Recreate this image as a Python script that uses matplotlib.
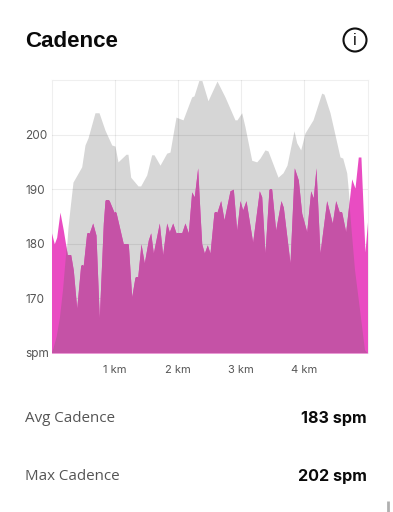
import matplotlib
matplotlib.use("Agg")
import matplotlib.pyplot as plt
from matplotlib.patches import Circle, Polygon

cad_km = [0,.044,.082,.134,.187,.25,.304,.345,.399,.462,.503,.557,.598,.652,.704,.756,.82,.847,.91,.989,1.02,1.136,1.215,1.269,1.321,1.364,1.416,1.468,1.532,1.57,1.611,1.706,1.759,1.823,1.864,1.918,1.97,2.06,2.112,2.165,2.218,2.259,2.313,2.35,2.377,2.418,2.465,2.508,2.571,2.619,2.677,2.73,2.824,2.877,2.93,2.983,3.025,3.078,3.183,3.288,3.326,3.378,3.441,3.484,3.547,3.631,3.668,3.774,3.842,3.905,3.959,4.038,4.101,4.142,4.185,4.248,4.354,4.443,4.497,4.554,4.592,4.655,4.75,4.802,4.854,4.896,4.96,5.0]
cad_spm = [182,180,181.2,185.8,182.5,178,178,175.2,168.2,176.1,176.1,182,182,183.8,181.6,166.4,183.8,188,188,185.8,185.8,180,180,170.3,173.9,173.9,180,176.5,180.7,182,178.3,183.8,178,183.8,182.2,183.8,182,182,183.8,182,189.5,188.6,193.9,185.6,180,178.3,179.8,178.3,185.8,185.8,187.9,184.4,189.7,190,182.5,187.9,186.2,187.9,180.3,189.7,188.6,178.3,190,190,182.5,187.9,186.7,176.5,193.9,191.7,185.6,182.2,189.7,188.4,193.9,178.3,187.9,183.8,187.9,185.8,185.8,182.2,191.9,190.2,195.9,195.9,178.5,184]

ele_km = [0,.03,.082,.134,.182,.23,.261,.293,.34,.478,.53,.578,.688,.752,.847,.953,1.005,1.052,1.179,1.21,1.253,1.369,1.411,1.506,1.585,1.622,1.717,1.823,1.875,1.97,2.081,2.218,2.255,2.334,2.377,2.476,2.619,2.745,2.903,2.935,3.01,3.062,3.168,3.247,3.299,3.378,3.426,3.584,3.663,3.726,3.837,3.88,3.943,4.011,4.138,4.275,4.312,4.407,4.565,4.608,4.671,4.692,4.755,4.802,4.881,4.96,5.0]
ele_val = [160,160.8,163,166.5,171.5,178,183,186.5,191.3,194.1,198.1,199.4,204,204,200.8,198.1,197.9,195,196.4,196.4,192.2,190.6,190.6,192.6,196.3,196.3,194.4,196.6,196.8,203.2,202.7,206.9,207.1,210,210,206.2,209.8,206.9,202.7,202.7,204,201.4,195.3,195,195.7,197.2,197,192.2,193,194.4,200.7,198.5,197.2,200.3,202.7,207.6,207.4,204,195.9,195.7,193,190.4,181.6,175.2,167.9,160.5,160]

km_ticks = [1, 2, 3, 4]
km_labels = ["1 km", "2 km", "3 km", "4 km"]
spm_ticks = [160, 170, 180, 190, 200]
spm_labels = ["spm", "170", "180", "190", "200"]
title = "Cadence"
stat_names = ["Avg Cadence", "Max Cadence"]
stat_values = ["183 spm", "202 spm"]

W, H = 393, 512
fig = plt.figure(figsize=(W/100, H/100), dpi=100, facecolor="white")
plt.rcParams["font.family"] = ["Inter", "DejaVu Sans"]

ov = fig.add_axes([0, 0, 1, 1])
ov.set_xlim(0, W); ov.set_ylim(H, 0); ov.axis("off")
ov.text(25.5, 41.5, title, fontsize=16.1, fontweight="bold", color="#0a0a0a", va="center", ha="left", family="Liberation Sans")
ov.add_patch(Circle((355, 40), 11.5, fill=False, ec="#111111", lw=1.5))
ov.text(355, 40.5, "i", fontsize=11.5, color="#111111", ha="center", va="center", family="Liberation Sans")
for y, n, v in zip([419, 476], stat_names, stat_values):
    ov.text(25, y, n, fontsize=10.9, color="#555555", va="center", ha="left", family="Open Sans")
    ov.text(367, y, v, fontsize=11.6, fontweight="bold", color="#0a0a0a", va="center", ha="right", family="Inter")
ov.plot([388, 388], [501, 512], color="#b0b0b0", lw=2, solid_capstyle="butt")

L, R, T, B = 51.5, 367.5, 80, 353
ax = fig.add_axes([L/W, 1-B/H, (R-L)/W, (B-T)/H])
ax.set_xlim(0, 5); ax.set_ylim(160, 210)
ax.patch.set_alpha(0)
ax.set_xticks(km_ticks, km_labels)
ax.set_yticks(spm_ticks, spm_labels)
for lab in ax.get_yticklabels():
    lab.set_horizontalalignment("left")
ax.tick_params(axis="y", length=0, pad=19, labelsize=8.5, labelcolor="#555555")
ax.tick_params(axis="x", length=0, pad=8.5, labelsize=8, labelcolor="#555555")
ax.grid(True, color="black", alpha=0.07, lw=0.8, zorder=2)
ax.set_axisbelow(False)
for s in ax.spines.values():
    s.set_color("#efefef"); s.set_linewidth(0.8)
ax.spines["bottom"].set_visible(False)
ax.fill_between(ele_km, 160, ele_val, color="#d6d6d6", lw=0, zorder=1)
ax.fill_between(cad_km, 160, cad_spm, color="#e94cc2", lw=0, zorder=3)
overlap = ax.fill_between(cad_km, 160, cad_spm, color="#c552a6", lw=0, zorder=4)
clip = Polygon(list(zip(ele_km, ele_val)), closed=True, transform=ax.transData)
overlap.set_clip_path(clip)

fig.savefig("out.png", dpi=100)
